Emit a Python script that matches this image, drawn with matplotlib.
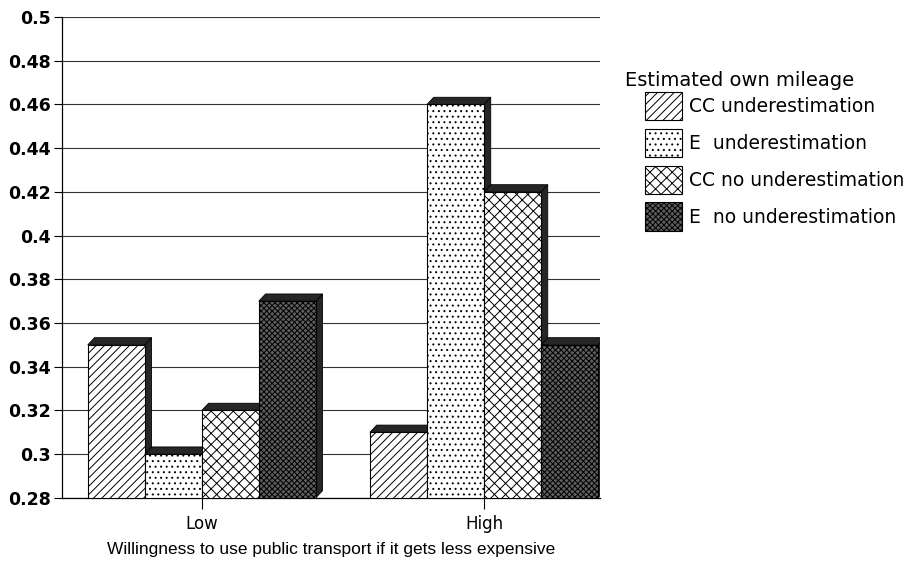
import numpy as np
import matplotlib.pyplot as plt
from matplotlib.patches import Polygon, Rectangle, Patch

plt.rcParams["font.family"] = ["DejaVu Sans"]
plt.rcParams["hatch.linewidth"] = 0.7

groups = ["Low", "High"]
series = ["CC underestimation", "E  underestimation",
          "CC no underestimation", "E  no underestimation"]
values = [
    [0.35, 0.31],   # CC underestimation
    [0.30, 0.46],   # E underestimation
    [0.32, 0.42],   # CC no underestimation
    [0.37, 0.35],   # E no underestimation
]
yticks = [0.28, 0.3, 0.32, 0.34, 0.36, 0.38, 0.4, 0.42, 0.44, 0.46, 0.48, 0.5]

faces = ["white", "white", "white", "#5e5e5e"]
hatches = ["////", "...", "xxx", "xxxxxx"]

W, H = 909, 569
fig = plt.figure(figsize=(W / 100, H / 100), dpi=100)
ax = fig.add_axes([0.068, 0.125, 0.592, 0.845])

ymin, ymax = 0.28, 0.5
width = 0.202
dx, dy = 0.024, 0.0033
shade = "#262626"

for g in range(len(groups)):
    for i in range(len(series)):
        x0 = g + (i - 2) * width
        x1 = x0 + width
        h = values[i][g]
        # right side face
        ax.add_patch(Polygon([(x1, ymin), (x1 + dx, ymin + dy), (x1 + dx, h + dy), (x1, h)],
                             closed=True, facecolor=shade, edgecolor="black", lw=0.6, zorder=3))
        # top face
        ax.add_patch(Polygon([(x0, h), (x0 + dx, h + dy), (x1 + dx, h + dy), (x1, h)],
                             closed=True, facecolor=shade, edgecolor="black", lw=0.6, zorder=3))
        # front face
        ax.add_patch(Rectangle((x0, ymin), width, h - ymin, facecolor=faces[i],
                               edgecolor="black", hatch=hatches[i], lw=0.8, zorder=3))

ax.set_xlim(-0.496, 1.411)
ax.set_ylim(ymin, ymax)
ax.set_yticks(yticks)
ax.set_yticklabels([f"{t:g}" for t in yticks], fontsize=12.5, fontweight="bold")
ax.yaxis.grid(True, color="#333333", lw=0.8)
ax.set_axisbelow(True)
ax.set_xticks([0, 1])
ax.set_xticklabels(groups, fontsize=12)
ax.tick_params(axis="x", length=8, width=0.8, pad=4)
ax.tick_params(axis="y", length=6, width=0.8, pad=2)
for s in ["top", "right"]:
    ax.spines[s].set_visible(False)
ax.spines["left"].set_linewidth(0.9)
ax.spines["bottom"].set_linewidth(0.9)
ax.set_xlabel("Willingness to use public transport if it gets less expensive",
              fontsize=12.5, labelpad=7, family="Liberation Sans")

# legend: title set apart, entries indented below it
fig.text(625 / W, 1 - 80 / H, "Estimated own mileage", fontsize=14, va="center", ha="left")
handles = [Patch(facecolor=faces[i], edgecolor="black", hatch=hatches[i], lw=0.8)
           for i in range(len(series))]
leg = fig.legend(handles, series, loc="upper left",
                 bbox_to_anchor=(645 / W, 1 - 92 / H), bbox_transform=fig.transFigure,
                 frameon=False, fontsize=13.5, handlelength=1.97, handleheight=1.95,
                 labelspacing=0.45, handletextpad=0.4, borderpad=0, borderaxespad=0)

fig.savefig("out.png", dpi=100)
